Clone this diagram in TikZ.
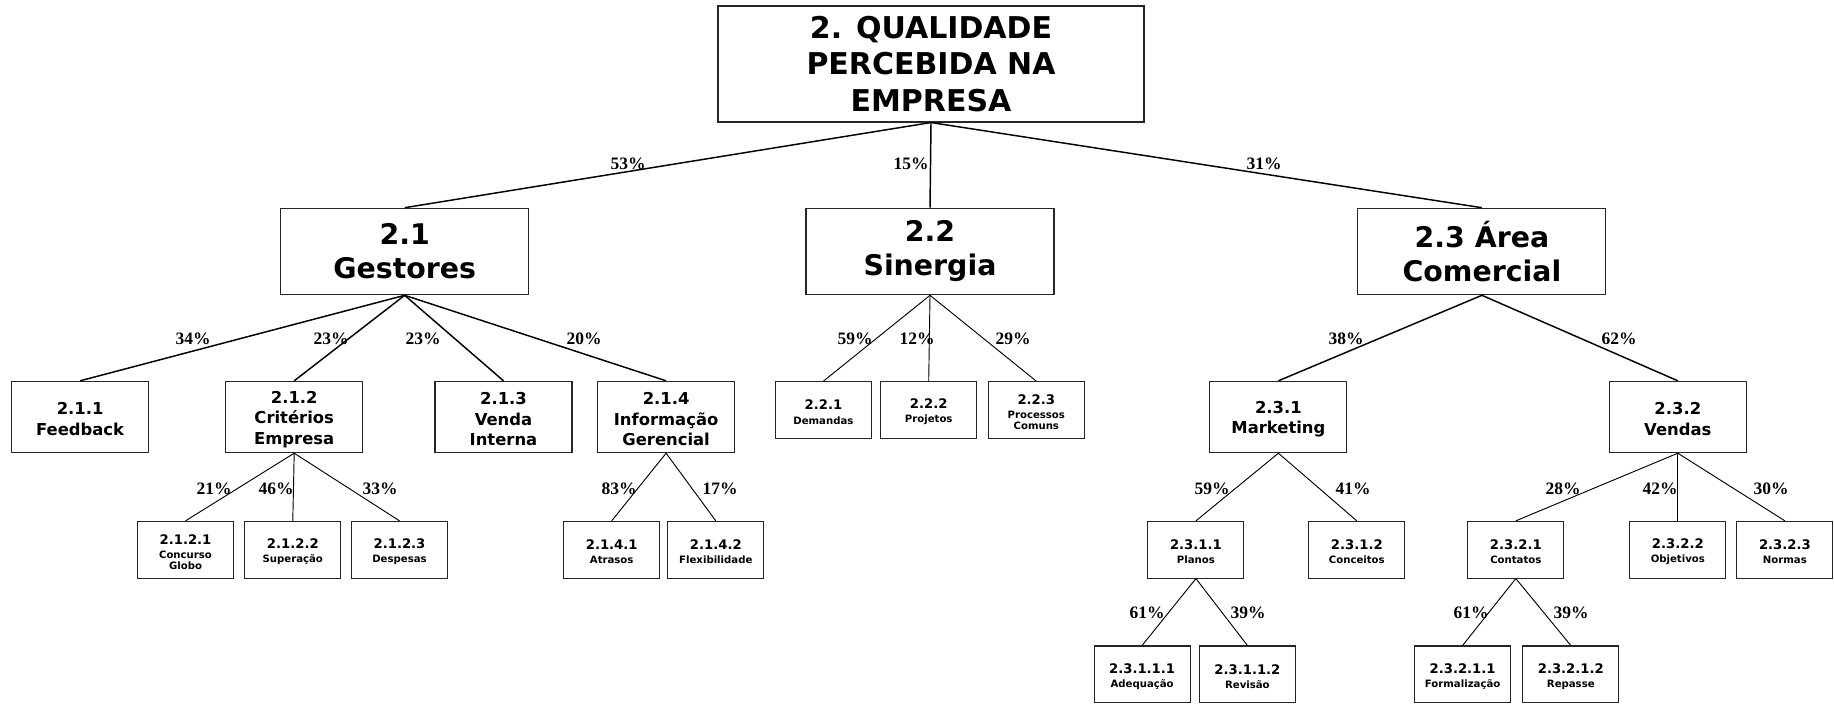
\documentclass[tikz,border=0pt]{standalone}
\usepackage{fontspec}
\newfontfamily\vfont{DejaVu Sans}
\newfontfamily\tfont{Liberation Serif}
\newcommand\numtxt[1]{{\rule{0pt}{10.4pt}\fontsize{9.9}{10.7}\selectfont #1}}
\newcommand\mstrut{\rule{0pt}{12.4pt}}
\tikzset{
 box/.style={draw=black!85, line width=0.8pt, inner sep=0pt, align=center},
 rootbox/.style={box, minimum width=319.5pt, minimum height=87pt, font=\vfont\bfseries\fontsize{22.5}{27.6}\selectfont},
 lonebox/.style={box, minimum width=186pt, minimum height=64.9pt, font=\vfont\bfseries\fontsize{21.3}{25.5}\selectfont},
 ltwobox/.style={box, minimum width=102.75pt, minimum height=53.5pt, font=\vfont\bfseries\fontsize{12.3}{15.4}\selectfont},
 smallbox/.style={box, minimum width=72pt, minimum height=42.5pt, font=\vfont\bfseries\fontsize{7.6}{8.1}\selectfont},
 pct/.style={font=\tfont\bfseries\fontsize{13.1}{15}\selectfont, inner sep=0pt},
 bigedge/.style={line width=1.1pt},
 smalledge/.style={line width=0.7pt},
}
\begin{document}
\begin{tikzpicture}[x=0.75pt,y=-0.75pt]
\useasboundingbox (0,0) rectangle (1834,704);
% root and level 1
\node[rootbox] (r) at (931,64) {2. QUALIDADE\\PERCEBIDA NA\\EMPRESA};
\node[lonebox] (a) at (404.7,251.5) {2.1\\Gestores};
\node[lonebox] (b) at (930,251.5) {2.2\\Sinergia};
\node[lonebox] (c) at (1481.9,251.5) {2.3 Área\\Comercial};
% level 2
\node[ltwobox] (a1) at (80.1,417) {\mstrut 2.1.1\\Feedback};
\node[ltwobox] (a2) at (294.2,417) {\mstrut 2.1.2\\Critérios\\Empresa};
\node[ltwobox] (a3) at (503.5,417) {\mstrut 2.1.3\\Venda\\Interna};
\node[ltwobox] (a4) at (666.1,417) {\mstrut 2.1.4\\Informação\\Gerencial};
\node[smallbox] (b1) at (823.4,410) {\numtxt{2.2.1}\\[2.6pt]Demandas};
\node[smallbox] (b2) at (928.7,410) {\numtxt{2.2.2}\\[2.6pt]Projetos};
\node[smallbox] (b3) at (1036.3,410) {\numtxt{2.2.3}\\[2.6pt]Processos\\Comuns};
\node[ltwobox] (c1) at (1278.4,417) {\mstrut 2.3.1\\Marketing};
\node[ltwobox] (c2) at (1677.8,417) {\mstrut 2.3.2\\Vendas};
% level 3
\node[smallbox] (a21) at (185.5,549.7) {\numtxt{2.1.2.1}\\[2.6pt]Concurso\\Globo};
\node[smallbox] (a22) at (292.8,549.7) {\numtxt{2.1.2.2}\\[2.6pt]Superação};
\node[smallbox] (a23) at (399.5,549.7) {\numtxt{2.1.2.3}\\[2.6pt]Despesas};
\node[smallbox] (a41) at (611.7,549.7) {\numtxt{2.1.4.1}\\[2.6pt]Atrasos};
\node[smallbox] (a42) at (715.8,549.7) {\numtxt{2.1.4.2}\\[2.6pt]Flexibilidade};
\node[smallbox] (c11) at (1195.9,549.7) {\numtxt{2.3.1.1}\\[2.6pt]Planos};
\node[smallbox] (c12) at (1356.8,549.7) {\numtxt{2.3.1.2}\\[2.6pt]Conceitos};
\node[smallbox] (c21) at (1515.8,549.7) {\numtxt{2.3.2.1}\\[2.6pt]Contatos};
\node[smallbox] (c22) at (1677.8,549.7) {\numtxt{2.3.2.2}\\[2.6pt]Objetivos};
\node[smallbox] (c23) at (1784.9,549.7) {\numtxt{2.3.2.3}\\[2.6pt]Normas};
% level 4
\node[smallbox] (c111) at (1142.1,674.3) {\numtxt{2.3.1.1.1}\\[2.6pt]Adequação};
\node[smallbox] (c112) at (1247.4,674.3) {\numtxt{2.3.1.1.2}\\[2.6pt]Revisão};
\node[smallbox] (c211) at (1462.6,674.3) {\numtxt{2.3.2.1.1}\\[2.6pt]Formalização};
\node[smallbox] (c212) at (1570.8,674.3) {\numtxt{2.3.2.1.2}\\[2.6pt]Repasse};
% edges
\foreach \p/\q in {r/a,r/b,r/c,a/a1,a/a2,a/a3,a/a4,c/c1,c/c2}
  \draw[bigedge] (\p.south) -- (\q.north);
\foreach \p/\q in {b/b1,b/b2,b/b3,a2/a21,a2/a22,a2/a23,a4/a41,a4/a42,c1/c11,c1/c12,c2/c21,c2/c22,c2/c23,c11/c111,c11/c112,c21/c211,c21/c212}
  \draw[smalledge] (\p.south) -- (\q.north);
% percentages
\node[pct] (p1) at (628,164) {53\%};
\node[pct] (p2) at (911,164) {15\%};
\node[pct] (p3) at (1264,164) {31\%};
\node[pct] (p4) at (193,339) {34\%};
\node[pct] (p5) at (331,339) {23\%};
\node[pct] (p6) at (423,339) {23\%};
\node[pct] (p7) at (584,339) {20\%};
\node[pct] (p8) at (855,339) {59\%};
\node[pct] (p9) at (917,339) {12\%};
\node[pct] (p10) at (1013,339) {29\%};
\node[pct] (p11) at (1346,339) {38\%};
\node[pct] (p12) at (1619,339) {62\%};
\node[pct] (p13) at (214,489) {21\%};
\node[pct] (p14) at (276,489) {46\%};
\node[pct] (p15) at (380,489) {33\%};
\node[pct] (p16) at (619,489) {83\%};
\node[pct] (p17) at (720,489) {17\%};
\node[pct] (p18) at (1212,489) {59\%};
\node[pct] (p19) at (1353,489) {41\%};
\node[pct] (p20) at (1563,489) {28\%};
\node[pct] (p21) at (1660,489) {42\%};
\node[pct] (p22) at (1771,489) {30\%};
\node[pct] (p23) at (1147,613) {61\%};
\node[pct] (p24) at (1248,613) {39\%};
\node[pct] (p25) at (1471,613) {61\%};
\node[pct] (p26) at (1571,613) {39\%};
\end{tikzpicture}
\end{document}
